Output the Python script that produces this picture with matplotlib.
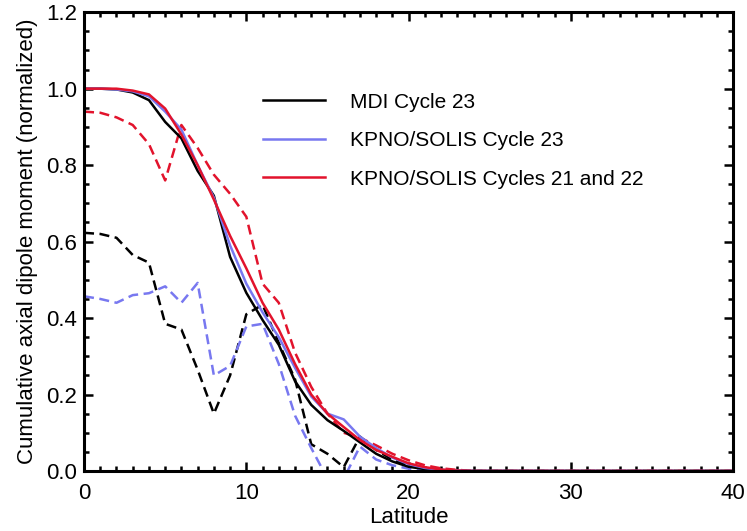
import matplotlib
matplotlib.use("Agg")
import matplotlib.pyplot as plt
from matplotlib.ticker import MultipleLocator, FormatStrFormatter

# latitudes sampled at whole degrees
lat = list(range(0, 41))

mdi_23 = [1.0, 1.0, 0.998, 0.99, 0.97, 0.913, 0.87, 0.785, 0.72, 0.56,
          0.466, 0.395, 0.33, 0.235, 0.173, 0.133, 0.105, 0.075, 0.045, 0.025,
          0.011, 0.005, 0.002] + [0.0] * 18
kpno_23 = [1.0, 1.0, 0.998, 0.993, 0.98, 0.94, 0.893, 0.80, 0.715, 0.59,
           0.49, 0.415, 0.35, 0.27, 0.195, 0.15, 0.135, 0.09, 0.06, 0.035,
           0.018, 0.008, 0.003, 0.001] + [0.0] * 17
kpno_2122 = [1.0, 1.0, 1.0, 0.995, 0.985, 0.948, 0.88, 0.80, 0.71, 0.615,
             0.53, 0.44, 0.37, 0.28, 0.20, 0.15, 0.115, 0.081, 0.055, 0.037,
             0.02, 0.01, 0.004, 0.001] + [0.0] * 17

# dashed curves
mdi_23_d = [0.623, 0.62, 0.61, 0.565, 0.545, 0.385, 0.37, 0.265, 0.15, 0.25,
            0.41, 0.435, 0.335, 0.24, 0.07, 0.045, 0.01, 0.09, 0.055, 0.03,
            0.015, 0.007, 0.002] + [0.0] * 18
kpno_23_d = [0.457, 0.45, 0.44, 0.46, 0.465, 0.483, 0.44, 0.492, 0.25, 0.275,
             0.378, 0.385, 0.28, 0.145, 0.06, -0.02, -0.02, 0.064, 0.03, 0.015,
             0.006, 0.002] + [0.0] * 19
kpno_2122_d = [0.94, 0.937, 0.925, 0.905, 0.855, 0.76, 0.905, 0.845, 0.775, 0.725,
               0.665, 0.49, 0.44, 0.31, 0.22, 0.15, 0.10, 0.087, 0.067, 0.045,
               0.028, 0.015, 0.007, 0.003] + [0.0] * 17

labels = ["MDI Cycle 23", "KPNO/SOLIS Cycle 23", "KPNO/SOLIS Cycles 21 and 22"]
colors = ["black", "#7878f0", "#e2132c"]

plt.rcParams["font.family"] = ["Liberation Sans", "DejaVu Sans"]

fig = plt.figure(figsize=(7.47, 5.31), dpi=100)
ax = fig.add_axes([0.1125, 0.113, 0.869, 0.864])

solid = [mdi_23, kpno_23, kpno_2122]
dashed = [mdi_23_d, kpno_23_d, kpno_2122_d]
for ys, c in zip(dashed, colors):
    ax.plot(lat, ys, color=c, lw=1.8, dashes=(4, 2.2))
for ys, c, lab in zip(solid, colors, labels):
    ax.plot(lat, ys, color=c, lw=1.8, label=lab)

ax.set_xlim(0, 40)
ax.set_ylim(0, 1.2)
ax.xaxis.set_major_locator(MultipleLocator(10))
ax.xaxis.set_minor_locator(MultipleLocator(1))
ax.yaxis.set_major_locator(MultipleLocator(0.2))
ax.yaxis.set_minor_locator(MultipleLocator(0.05))
ax.yaxis.set_major_formatter(FormatStrFormatter("%.1f"))
ax.tick_params(which="both", direction="in", top=True, right=True,
               width=1.8, labelsize=16)
ax.tick_params(which="major", length=6.5, pad=5)
ax.tick_params(which="minor", length=3.5)
ax.tick_params(axis="x", which="major", pad=9)
for s in ax.spines.values():
    s.set_linewidth(2.2)

ax.set_xlabel("Latitude", fontsize=16, labelpad=2)
ax.set_ylabel("Cumulative axial dipole moment (normalized)", fontsize=16,
              labelpad=6)

ax.legend(loc="upper left", bbox_to_anchor=(0.275, 0.825), frameon=False,
          fontsize=15, handlelength=3.0, handletextpad=1.2, labelspacing=0.94,
          borderpad=0, borderaxespad=0)

fig.savefig("out.png", dpi=100)
